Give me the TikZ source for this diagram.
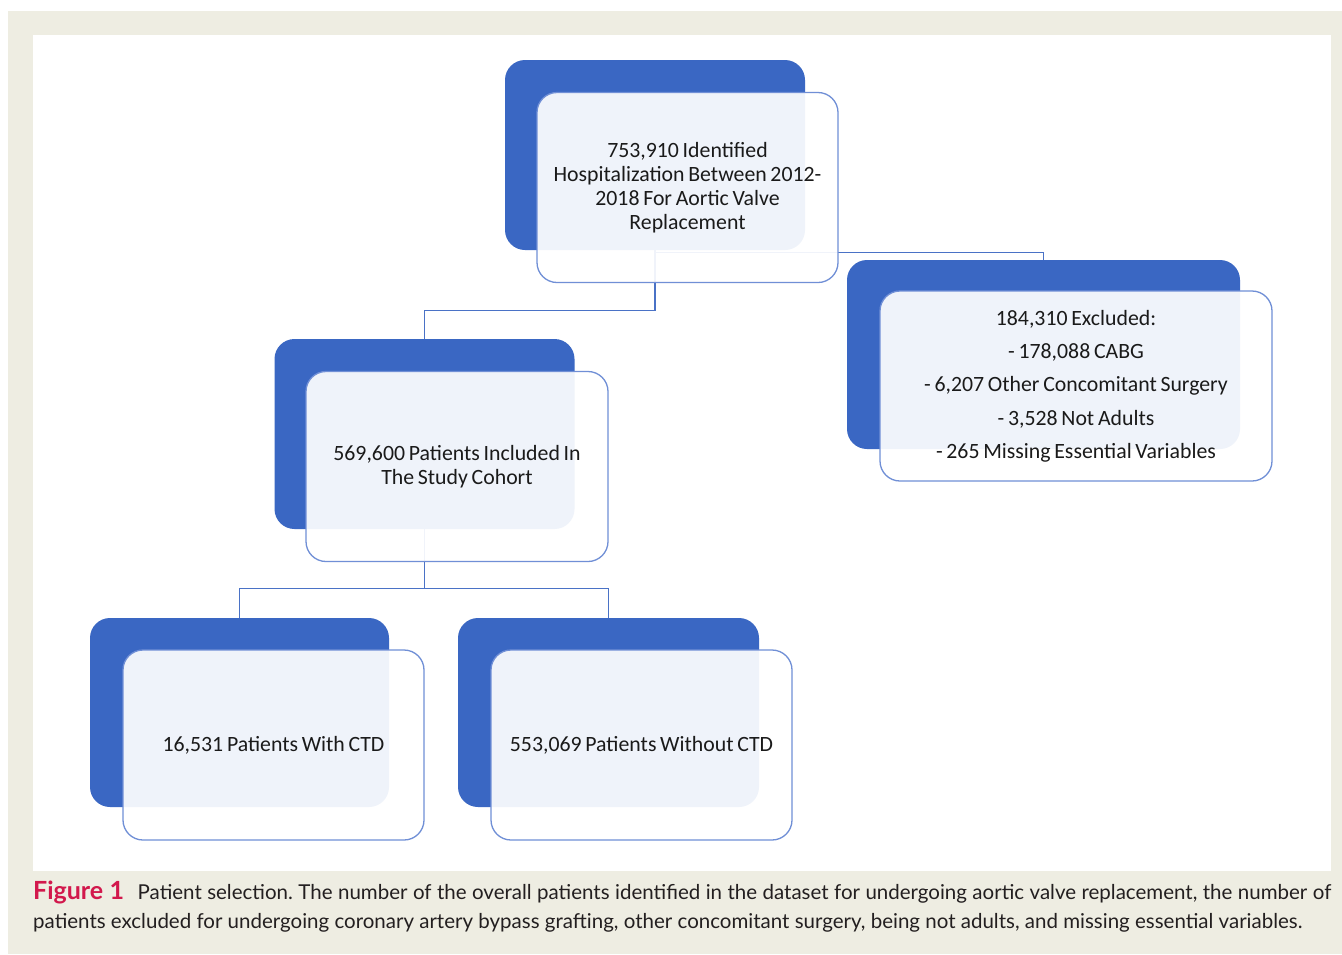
\documentclass[tikz,border=0pt]{standalone}
\usepackage{fontspec}
\setmainfont{Carlito}
\newfontfamily\capfont{Lato}
\usetikzlibrary{backgrounds}
\definecolor{beige}{RGB}{238,237,226}
\definecolor{myblue}{RGB}{58,103,195}
\definecolor{frontline}{RGB}{112,143,214}
\definecolor{connc}{RGB}{74,114,198}
\definecolor{textc}{RGB}{26,26,26}
\definecolor{captext}{RGB}{35,31,32}
\definecolor{figred}{RGB}{210,24,76}
\newcommand\myboxfont{\fontsize{21.8}{24}\selectfont\spaceskip=0.17em plus 0.05em\relax}
\newcommand\myboxfontwide{\fontsize{21.8}{33.3}\selectfont\spaceskip=0.17em plus 0.05em\relax}
\begin{document}
\frenchspacing
\begin{tikzpicture}[x=1pt,y=-1pt,
  backbox/.style={fill=myblue, draw=none, rounded corners=20pt, minimum width=300pt, minimum height=190pt, inner sep=0pt},
  frontbox/.style={fill=white, fill opacity=0.92, text opacity=1, draw=frontline, line width=1.3pt, rounded corners=20pt,
    minimum width=301pt, minimum height=190pt, align=center, text=textc, font=\myboxfont, inner sep=2pt},
  conn/.style={draw=connc, line width=1.3pt}]
\useasboundingbox (0,0) rectangle (1342,954);
% boxes
\node[backbox] (b1) at (655,155) {};
\node[frontbox] (f1) at (687.5,187.5) {753,910 Identified\\Hospitalization Between 2012-\\2018 For Aortic Valve\\Replacement};
\node[backbox, minimum width=393pt, minimum height=189pt] (b3) at (1043.5,354.5) {};
\node[frontbox, minimum width=392pt, font=\myboxfontwide] (f3) at (1076,386) {184,310 Excluded:\\- 178,088 CABG\\- 6,207 Other Concomitant Surgery\\- 3,528 Not Adults\\- 265 Missing Essential Variables};
\node[backbox] (b2) at (424.5,434) {};
\node[frontbox, minimum width=302pt] (f2) at (457,466.5) {569,600 Patients Included In\\The Study Cohort};
\node[backbox, minimum width=299pt, minimum height=189pt] (b4) at (239.5,712.5) {};
\node[frontbox] (f4) at (273.5,745) {16,531 Patients With CTD};
\node[backbox, minimum width=301pt, minimum height=189pt] (b5) at (608.5,712.5) {};
\node[frontbox] (f5) at (641.5,745) {553,069 Patients Without CTD};
% background and connectors
\begin{scope}[on background layer]
  \fill[beige] (8,11) rectangle (1342,954);
  \fill[white] (33,35) rectangle (1331,871);
  \draw[conn] (b1.south) -- ++(0,60) -| (b2.north);
  \draw[conn] (b1.south) ++(0,2) -| (b3.north);
  \draw[conn] (b2.south) -- ++(0,59) -| (b4.north);
  \draw[conn] (b2.south) ++(0,59) -| (b5.north);
\end{scope}
% caption
\node[anchor=base west, inner sep=0pt, text=captext, font=\capfont\fontsize{20.5}{29}\selectfont] (cap) at (33,899)
  {\parbox[t]{1298pt}{\textcolor{figred}{\bfseries\fontsize{25}{29}\selectfont Figure 1}\hspace{0.4em} Patient selection. The number of the overall patients identified in the dataset for undergoing aortic valve replacement, the number of\linebreak patients excluded for undergoing coronary artery bypass grafting, other concomitant surgery, being not adults, and missing essential variables.}};
\end{tikzpicture}
\end{document}
